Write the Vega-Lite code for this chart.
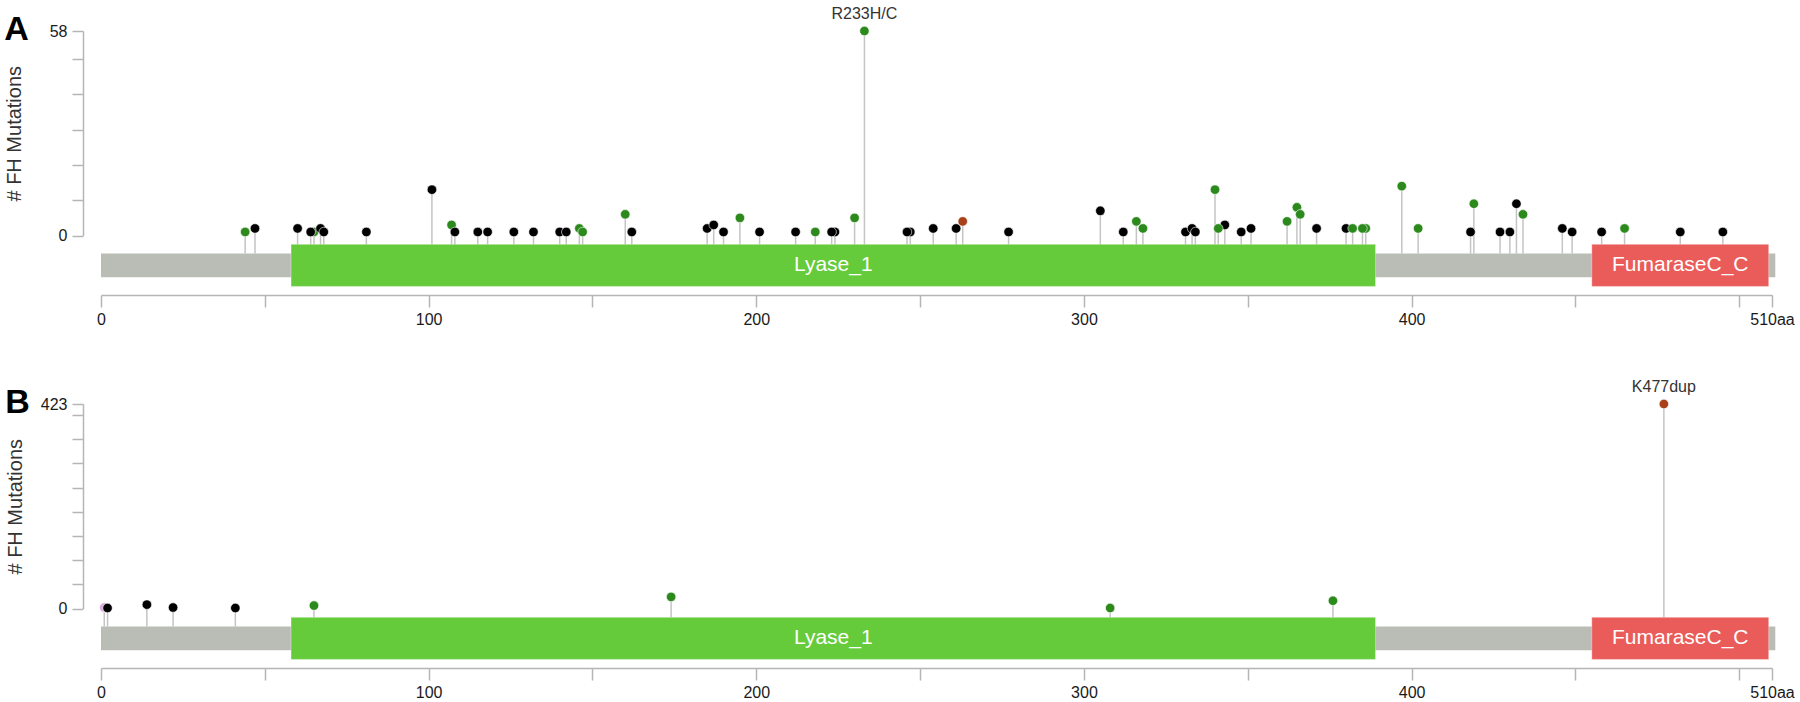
{
  "$schema": "https://vega.github.io/schema/vega-lite/v6.json",
  "background": "white",
  "padding": {"left": 4, "top": 6, "right": 0, "bottom": 0},
  "spacing": 52,
  "config": {
    "view": {"stroke": null},
    "font": "Liberation Sans",
    "axis": {
      "domainColor": "#b5b5b5", "tickColor": "#b5b5b5", "domainWidth": 1.5, "tickWidth": 1.5,
      "labelColor": "#1a1a1a", "labelFontSize": 16, "labelFont": "Liberation Sans", "grid": false,
      "titleFont": "Liberation Sans", "titleFontWeight": "normal", "titleFontSize": 20, "titleColor": "#333333",
      "labelFlush": false, "labelOverlap": false, "labelBound": false
    },
    "title": {"font": "Liberation Sans", "fontSize": 34, "fontWeight": "bold", "anchor": "start", "frame": "bounds", "color": "#000000"}
  },
  "datasets": {
    "mutA": [
      {"pos": 44, "count": 1, "type": "Missense"},
      {"pos": 47, "count": 2, "type": "Truncating"},
      {"pos": 60, "count": 2, "type": "Truncating"},
      {"pos": 65, "count": 1, "type": "Missense"},
      {"pos": 64, "count": 1, "type": "Truncating"},
      {"pos": 67, "count": 2, "type": "Truncating"},
      {"pos": 68, "count": 1, "type": "Truncating"},
      {"pos": 81, "count": 1, "type": "Truncating"},
      {"pos": 101, "count": 13, "type": "Truncating"},
      {"pos": 107, "count": 3, "type": "Missense"},
      {"pos": 108, "count": 1, "type": "Truncating"},
      {"pos": 115, "count": 1, "type": "Truncating"},
      {"pos": 118, "count": 1, "type": "Truncating"},
      {"pos": 126, "count": 1, "type": "Truncating"},
      {"pos": 132, "count": 1, "type": "Truncating"},
      {"pos": 140, "count": 1, "type": "Truncating"},
      {"pos": 142, "count": 1, "type": "Truncating"},
      {"pos": 146, "count": 2, "type": "Missense"},
      {"pos": 147, "count": 1, "type": "Missense"},
      {"pos": 160, "count": 6, "type": "Missense"},
      {"pos": 162, "count": 1, "type": "Truncating"},
      {"pos": 185, "count": 2, "type": "Truncating"},
      {"pos": 187, "count": 3, "type": "Truncating"},
      {"pos": 190, "count": 1, "type": "Truncating"},
      {"pos": 195, "count": 5, "type": "Missense"},
      {"pos": 201, "count": 1, "type": "Truncating"},
      {"pos": 212, "count": 1, "type": "Truncating"},
      {"pos": 218, "count": 1, "type": "Missense"},
      {"pos": 224, "count": 1, "type": "Truncating"},
      {"pos": 223, "count": 1, "type": "Truncating"},
      {"pos": 230, "count": 5, "type": "Missense"},
      {"pos": 233, "count": 58, "type": "Missense", "label": "R233H/C"},
      {"pos": 247, "count": 1, "type": "Truncating"},
      {"pos": 246, "count": 1, "type": "Truncating"},
      {"pos": 254, "count": 2, "type": "Truncating"},
      {"pos": 261, "count": 2, "type": "Truncating"},
      {"pos": 263, "count": 4, "type": "Inframe"},
      {"pos": 277, "count": 1, "type": "Truncating"},
      {"pos": 305, "count": 7, "type": "Truncating"},
      {"pos": 312, "count": 1, "type": "Truncating"},
      {"pos": 316, "count": 4, "type": "Missense"},
      {"pos": 318, "count": 2, "type": "Missense"},
      {"pos": 331, "count": 1, "type": "Truncating"},
      {"pos": 333, "count": 2, "type": "Truncating"},
      {"pos": 334, "count": 1, "type": "Truncating"},
      {"pos": 340, "count": 13, "type": "Missense"},
      {"pos": 343, "count": 3, "type": "Truncating"},
      {"pos": 341, "count": 2, "type": "Missense"},
      {"pos": 348, "count": 1, "type": "Truncating"},
      {"pos": 351, "count": 2, "type": "Truncating"},
      {"pos": 362, "count": 4, "type": "Missense"},
      {"pos": 365, "count": 8, "type": "Missense"},
      {"pos": 366, "count": 6, "type": "Missense"},
      {"pos": 371, "count": 2, "type": "Truncating"},
      {"pos": 380, "count": 2, "type": "Truncating"},
      {"pos": 382, "count": 2, "type": "Missense"},
      {"pos": 386, "count": 2, "type": "Missense"},
      {"pos": 385, "count": 2, "type": "Missense"},
      {"pos": 397, "count": 14, "type": "Missense"},
      {"pos": 402, "count": 2, "type": "Missense"},
      {"pos": 419, "count": 9, "type": "Missense"},
      {"pos": 418, "count": 1, "type": "Truncating"},
      {"pos": 427, "count": 1, "type": "Truncating"},
      {"pos": 430, "count": 1, "type": "Truncating"},
      {"pos": 434, "count": 6, "type": "Missense"},
      {"pos": 432, "count": 9, "type": "Truncating"},
      {"pos": 446, "count": 2, "type": "Truncating"},
      {"pos": 449, "count": 1, "type": "Truncating"},
      {"pos": 458, "count": 1, "type": "Truncating"},
      {"pos": 465, "count": 2, "type": "Missense"},
      {"pos": 482, "count": 1, "type": "Truncating"},
      {"pos": 495, "count": 1, "type": "Truncating"}
    ],
    "mutB": [
      {"pos": 1, "count": 2, "type": "Other"},
      {"pos": 2, "count": 1, "type": "Truncating"},
      {"pos": 14, "count": 8, "type": "Truncating"},
      {"pos": 22, "count": 2, "type": "Truncating"},
      {"pos": 41, "count": 1, "type": "Truncating"},
      {"pos": 65, "count": 6, "type": "Missense"},
      {"pos": 174, "count": 24, "type": "Missense"},
      {"pos": 308, "count": 1, "type": "Missense"},
      {"pos": 376, "count": 16, "type": "Missense"},
      {"pos": 477, "count": 423, "type": "Inframe", "label": "K477dup"}
    ],
    "protein": [
      {"name": "FH", "start": 0, "end": 511}
    ],
    "domains": [
      {"name": "Lyase_1", "start": 58, "end": 389},
      {"name": "FumaraseC_C", "start": 455, "end": 509}
    ]
  },
  "vconcat": [
    {
      "title": {"text": "A", "offset": -41},
      "width": 1671,
      "height": 264,
      "layer": [
        {
          "data": {"name": "mutA"},
          "mark": {"type": "rule", "color": "#c4c4c4", "strokeWidth": 1.5},
          "encoding": {
            "x": {"field": "pos", "type": "quantitative", "title": null,
              "scale": {"domain": [0, 510], "nice": false, "zero": false},
              "axis": {"values": [0, 50, 100, 150, 200, 250, 300, 350, 400, 450, 500, 510], "tickCount": 30, "labelExpr": "datum.value == 510 ? '510aa' : (datum.value % 100 == 0 && datum.value <= 400 ? datum.label : '')", "tickSize": 12, "labelPadding": 4, "labelOverlap": false, "labelFlush": false}},
            "y": {"field": "count", "type": "quantitative", "title": "# FH Mutations",
              "scale": {"domain": [0, 58], "range": [204.5, 0], "nice": false, "zero": false},
              "axis": {"values": [0, 10, 20, 30, 40, 50, 58], "tickCount": 30, "labelExpr": "datum.value == 0 || datum.value == 58 ? datum.label : ''", "tickSize": 11, "labelPadding": 5, "offset": 18, "titlePadding": 25, "labelOverlap": false}},
            "y2": {"datum": -5.1}
          }
        },
        {
          "data": {"name": "protein"},
          "mark": {"type": "rect", "color": "#babdb6"},
          "encoding": {
            "x": {"field": "start", "type": "quantitative", "title": null},
            "x2": {"field": "end"},
            "y": {"datum": -5.1},
            "y2": {"datum": -11.83}
          }
        },
        {
          "data": {"name": "domains"},
          "mark": {"type": "rect", "stroke": "#ffffff", "strokeOpacity": 0.35, "strokeWidth": 1},
          "encoding": {
            "x": {"field": "start", "type": "quantitative", "title": null},
            "x2": {"field": "end"},
            "y": {"datum": -2.5},
            "y2": {"datum": -14.44},
            "fill": {"field": "name", "type": "nominal", "legend": null,
              "scale": {"domain": ["Lyase_1", "FumaraseC_C"], "range": ["#66cb3b", "#e95c5a"]}}
          }
        },
        {
          "data": {"name": "domains"},
          "transform": [{"calculate": "(datum.start + datum.end) / 2", "as": "mid"}],
          "mark": {"type": "text", "color": "#ffffff", "fontSize": 21, "baseline": "middle", "align": "center"},
          "encoding": {
            "x": {"field": "mid", "type": "quantitative", "title": null},
            "y": {"datum": -8.47},
            "text": {"field": "name"}
          }
        },
        {
          "data": {"name": "mutA"},
          "mark": {"type": "circle", "size": 90, "opacity": 1, "stroke": "#ffffff", "strokeWidth": 0.6},
          "encoding": {
            "x": {"field": "pos", "type": "quantitative", "title": null},
            "y": {"field": "count", "type": "quantitative", "title": "# FH Mutations"},
            "color": {"field": "type", "type": "nominal", "legend": null,
              "scale": {"domain": ["Missense", "Truncating", "Inframe", "Other"], "range": ["#2c8a1d", "#000000", "#a8411a", "#dba6da"]}}
          }
        },
        {
          "data": {"name": "mutA"},
          "transform": [{"filter": "isValid(datum.label)"}],
          "mark": {"type": "text", "fontSize": 16, "color": "#333333", "dy": -17, "baseline": "middle", "align": "center"},
          "encoding": {
            "x": {"field": "pos", "type": "quantitative", "title": null},
            "y": {"field": "count", "type": "quantitative", "title": "# FH Mutations"},
            "text": {"field": "label"}
          }
        }
      ]
    },
    {
      "title": {"text": "B", "offset": -41},
      "width": 1671,
      "height": 264,
      "layer": [
        {
          "data": {"name": "mutB"},
          "mark": {"type": "rule", "color": "#c4c4c4", "strokeWidth": 1.5},
          "encoding": {
            "x": {"field": "pos", "type": "quantitative", "title": null,
              "scale": {"domain": [0, 510], "nice": false, "zero": false},
              "axis": {"values": [0, 50, 100, 150, 200, 250, 300, 350, 400, 450, 500, 510], "tickCount": 30, "labelExpr": "datum.value == 510 ? '510aa' : (datum.value % 100 == 0 && datum.value <= 400 ? datum.label : '')", "tickSize": 12, "labelPadding": 4, "labelOverlap": false, "labelFlush": false}},
            "y": {"field": "count", "type": "quantitative", "title": "# FH Mutations",
              "scale": {"domain": [0, 423], "range": [204.5, 0], "nice": false, "zero": false},
              "axis": {"values": [0, 50, 100, 150, 200, 250, 300, 350, 400, 423], "tickCount": 30, "labelExpr": "datum.value == 0 || datum.value == 423 ? datum.label : ''", "tickSize": 11, "labelPadding": 5, "offset": 18, "titlePadding": 15, "labelOverlap": false}},
            "y2": {"datum": -37.2}
          }
        },
        {
          "data": {"name": "protein"},
          "mark": {"type": "rect", "color": "#babdb6"},
          "encoding": {
            "x": {"field": "start", "type": "quantitative", "title": null},
            "x2": {"field": "end"},
            "y": {"datum": -37.2},
            "y2": {"datum": -86.3}
          }
        },
        {
          "data": {"name": "domains"},
          "mark": {"type": "rect", "stroke": "#ffffff", "strokeOpacity": 0.35, "strokeWidth": 1},
          "encoding": {
            "x": {"field": "start", "type": "quantitative", "title": null},
            "x2": {"field": "end"},
            "y": {"datum": -18.2},
            "y2": {"datum": -105.3},
            "fill": {"field": "name", "type": "nominal", "legend": null,
              "scale": {"domain": ["Lyase_1", "FumaraseC_C"], "range": ["#66cb3b", "#e95c5a"]}}
          }
        },
        {
          "data": {"name": "domains"},
          "transform": [{"calculate": "(datum.start + datum.end) / 2", "as": "mid"}],
          "mark": {"type": "text", "color": "#ffffff", "fontSize": 21, "baseline": "middle", "align": "center"},
          "encoding": {
            "x": {"field": "mid", "type": "quantitative", "title": null},
            "y": {"datum": -61.75},
            "text": {"field": "name"}
          }
        },
        {
          "data": {"name": "mutB"},
          "mark": {"type": "circle", "size": 90, "opacity": 1, "stroke": "#ffffff", "strokeWidth": 0.6},
          "encoding": {
            "x": {"field": "pos", "type": "quantitative", "title": null},
            "y": {"field": "count", "type": "quantitative", "title": "# FH Mutations"},
            "color": {"field": "type", "type": "nominal", "legend": null,
              "scale": {"domain": ["Missense", "Truncating", "Inframe", "Other"], "range": ["#2c8a1d", "#000000", "#a8411a", "#dba6da"]}}
          }
        },
        {
          "data": {"name": "mutB"},
          "transform": [{"filter": "isValid(datum.label)"}],
          "mark": {"type": "text", "fontSize": 16, "color": "#333333", "dy": -17, "baseline": "middle", "align": "center"},
          "encoding": {
            "x": {"field": "pos", "type": "quantitative", "title": null},
            "y": {"field": "count", "type": "quantitative", "title": "# FH Mutations"},
            "text": {"field": "label"}
          }
        }
      ]
    }
  ]
}
